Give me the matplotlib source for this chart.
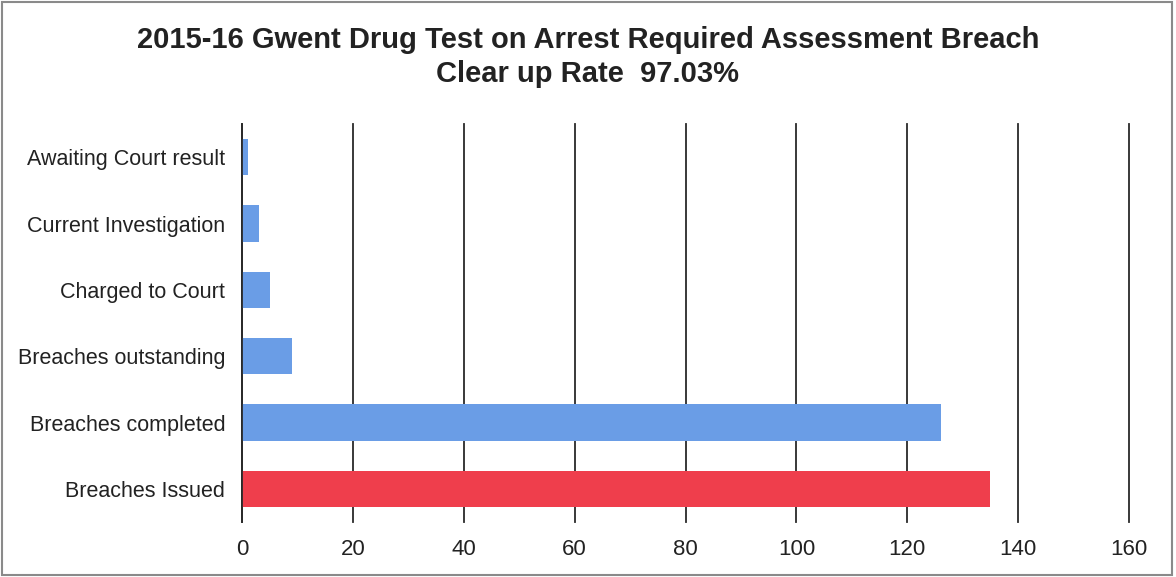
import matplotlib
matplotlib.use("Agg")
import matplotlib.pyplot as plt
from matplotlib.patches import Rectangle

plt.rcParams['font.family'] = ['Liberation Sans', 'DejaVu Sans']

categories = ["Breaches Issued", "Breaches completed", "Breaches outstanding",
              "Charged to Court", "Current Investigation", "Awaiting Court result"]
values = [135, 126, 9, 5, 3, 1]
colors = ["#ef3e4c", "#6a9de6", "#6a9de6", "#6a9de6", "#6a9de6", "#6a9de6"]
xticks = [0, 20, 40, 60, 80, 100, 120, 140, 160]

fig = plt.figure(figsize=(11.76, 5.77), dpi=100)
ax = fig.add_axes([0.2058, 0.0953, 0.7543, 0.6897])

ax.barh(range(len(categories)), values, height=0.55, color=colors, zorder=3)
ax.set_yticks(range(len(categories)))
ax.set_yticklabels(categories, fontsize=15.5, color="#222222")
ax.set_ylim(-0.5, len(categories) - 0.5)
ax.set_xlim(0, 160)
ax.set_xticks(xticks)
ax.set_xticklabels([str(t) for t in xticks], fontsize=16, color="#222222")
ax.tick_params(axis="x", length=0, pad=12)
ax.tick_params(axis="y", length=0, pad=12)
for gl in ax.get_xgridlines():
    gl.set_clip_on(False)
ax.xaxis.grid(True, color="#2a2a2a", linewidth=1.3, zorder=1)
for gl in ax.get_xgridlines():
    gl.set_clip_on(False)
for side in ["top", "right", "bottom"]:
    ax.spines[side].set_visible(False)
ax.spines["left"].set_color("#2a2a2a")
ax.spines["left"].set_linewidth(1.3)
ax.spines["left"].set_zorder(4)

fig.text(0.5, 0.930, "2015-16 Gwent Drug Test on Arrest Required Assessment Breach",
         ha="center", va="center", fontsize=21, fontweight="bold", color="#222222")
fig.text(0.5, 0.872, "Clear up Rate  97.03%",
         ha="center", va="center", fontsize=21, fontweight="bold", color="#222222")

fig.patches.append(Rectangle((0.002, 0.004), 0.995, 0.992, transform=fig.transFigure,
                             fill=False, edgecolor="#8a8a8a", linewidth=1.5))

fig.savefig("out.png", dpi=100)
